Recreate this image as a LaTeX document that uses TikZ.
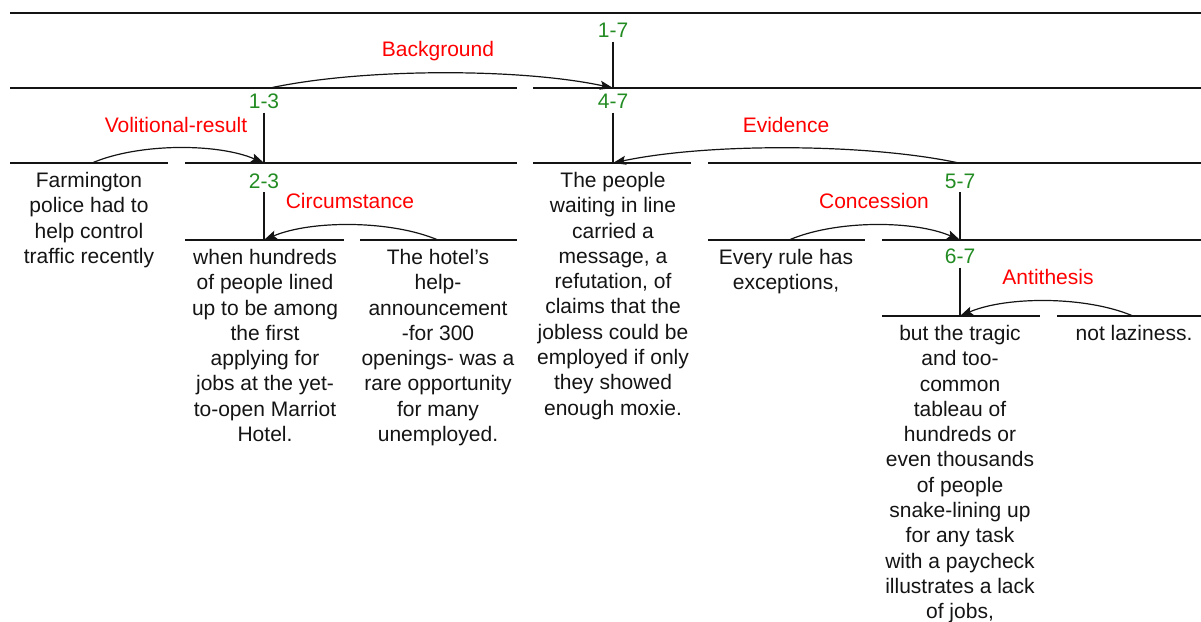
\documentclass[tikz,border=0pt]{standalone}
\usepackage{fontspec}
\setmainfont{Liberation Sans}
\usetikzlibrary{arrows.meta,calc}
\definecolor{spangreen}{RGB}{34,139,34}
\definecolor{relred}{RGB}{255,0,0}
\definecolor{ink}{RGB}{20,20,20}

% curved relation arrow from a satellite point to a nucleus point
\newcommand\relarc[2]{%
  \draw[relarrow] (#1) .. controls ($(#1)!0.27!(#2)+(0,-20)$)
                              and ($(#1)!0.73!(#2)+(0,-20)$) .. (#2);}

\begin{document}
\begin{tikzpicture}[x=1pt,y=-1pt,
  font=\fontsize{21}{25.3}\selectfont,
  seg/.style={line width=1.4pt, draw=ink},
  stem/.style={line width=1.2pt, draw=ink},
  spanlbl/.style={text=spangreen, inner sep=0pt, outer sep=4pt, anchor=base},
  rellbl/.style={text=relred, inner sep=0pt, anchor=base},
  edu/.style={text=ink, align=center, inner sep=0pt, anchor=north},
  relarrow/.style={line width=1.2pt, draw=ink, -{Stealth[length=13pt,width=9pt,inset=2.5pt]}}
]
\useasboundingbox (0,0) rectangle (1201,621);

% span lines
\draw[seg] (10,13) -- (1201,13);
\draw[seg] (10,88) -- (517,88);
\draw[seg] (533,88) -- (1201,88);
\draw[seg] (10,163) -- (168,163);
\draw[seg] (185,163) -- (517,163);
\draw[seg] (533,163) -- (691,163);
\draw[seg] (708,163) -- (1201,163);
\draw[seg] (185,240) -- (344,240);
\draw[seg] (360,240) -- (517,240);
\draw[seg] (708,240) -- (865,240);
\draw[seg] (882,240) -- (1201,240);
\draw[seg] (882,316) -- (1040,316);
\draw[seg] (1057,316) -- (1201,316);

% nucleus attachment points
\coordinate (n17) at (613,88);
\coordinate (n13) at (264,163);
\coordinate (n47) at (613,163);
\coordinate (n23) at (264,240);
\coordinate (n57) at (960,240);
\coordinate (n67) at (960,316);

% satellite attachment points
\coordinate (sBg) at (270,88);
\coordinate (sVol) at (92,163);
\coordinate (sEv) at (959,163);
\coordinate (sCi) at (438,240);
\coordinate (sCo) at (789,240);
\coordinate (sAn) at (1133,316);

% span labels
\node[spanlbl] (l17) at (613,37.5) {1-7};
\node[spanlbl] (l13) at (264,108.5) {1-3};
\node[spanlbl] (l47) at (613,108.5) {4-7};
\node[spanlbl] (l23) at (264,188) {2-3};
\node[spanlbl] (l57) at (960,188) {5-7};
\node[spanlbl] (l67) at (960,263.5) {6-7};

% stems from span labels down to their lines
\draw[stem] (l17.south) -- (n17);
\draw[stem] (l13.south) -- (n13);
\draw[stem] (l47.south) -- (n47);
\draw[stem] (l23.south) -- (n23);
\draw[stem] (l57.south) -- (n57);
\draw[stem] (l67.south) -- (n67);

% relation names
\node[rellbl] (rBg) at (438,56) {Background};
\node[rellbl] (rVol) at (176,132) {Volitional-result};
\node[rellbl] (rEv) at (786,132) {Evidence};
\node[rellbl] (rCi) at (350,208) {Circumstance};
\node[rellbl] (rCo) at (874,208) {Concession};
\node[rellbl] (rAn) at (1048,284) {Antithesis};

% relation arrows
\relarc{sBg}{n17}
\relarc{sVol}{n13}
\relarc{sEv}{n47}
\relarc{sCi}{n23}
\relarc{sCo}{n57}
\relarc{sAn}{n67}

% elementary units
\node[edu] (e1) at (89,172) {Farmington\\police had to\\help control\\traffic recently};
\node[edu] (e2) at (265,249) {when hundreds\\of people lined\\up to be among\\the first\\applying for\\jobs at the yet-\\to-open Marriot\\Hotel.};
\node[edu] (e3) at (438,249) {The hotel’s\\help-\\announcement\\-for 300\\openings- was a\\rare opportunity\\for many\\unemployed.};
\node[edu] (e4) at (613,172) {The people\\waiting in line\\carried a\\message, a\\refutation, of\\claims that the\\jobless could be\\employed if only\\they showed\\enough moxie.};
\node[edu] (e5) at (786,249) {Every rule has\\exceptions,};
\node[edu] (e6) at (960,325) {but the tragic\\and too-\\common\\tableau of\\hundreds or\\even thousands\\of people\\snake-lining up\\for any task\\with a paycheck\\illustrates a lack\\of jobs,};
\node[edu] (e7) at (1134,325) {not laziness.};
\end{tikzpicture}
\end{document}
